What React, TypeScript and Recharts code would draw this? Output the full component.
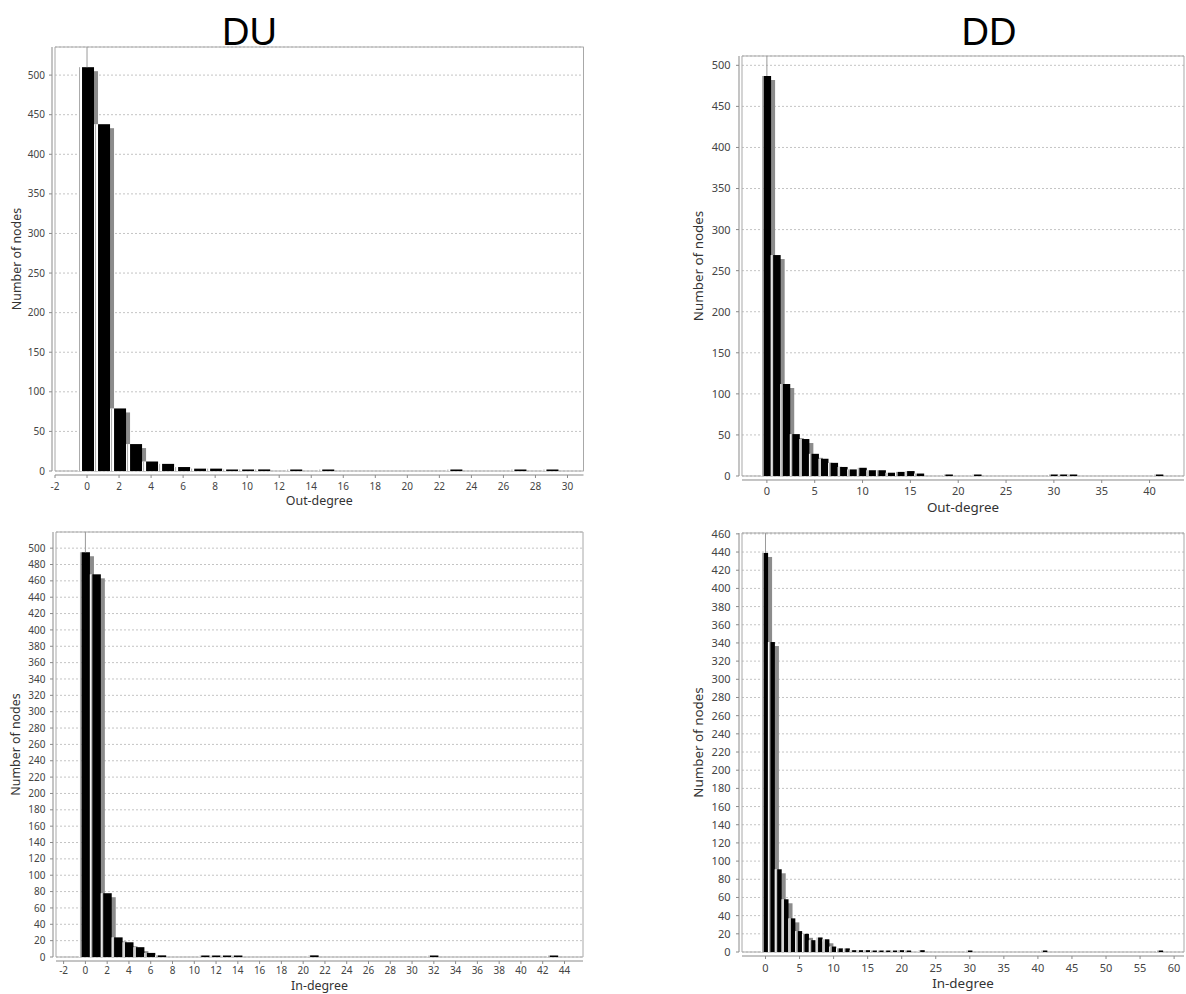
import React from 'react';
import { BarChart, Bar, XAxis, YAxis, CartesianGrid, ReferenceLine, ReferenceArea } from 'recharts';

// node counts per degree (index = degree)
const duOutCounts = [510, 438, 79, 34, 12, 9, 5, 3, 3, 1, 1, 2, 0, 1, 0, 1, 0, 0, 0, 0, 0, 0, 0, 1, 0, 0, 0, 1, 0, 1];
const ddOutCounts = [487, 269, 112, 51, 45, 27, 21, 16, 11, 8, 10, 7, 7, 4, 5, 6, 3, 0, 0, 1, 0, 0, 1, 0, 0, 0, 0, 0, 0, 0, 1, 1, 1, 0, 0, 0, 0, 0, 0, 0, 0, 1];
const duInCounts = [495, 468, 78, 24, 18, 12, 5, 2, 0, 0, 0, 1, 1, 1, 1, 0, 0, 0, 0, 0, 0, 2, 0, 0, 0, 0, 0, 0, 0, 0, 0, 0, 1, 0, 0, 0, 0, 0, 0, 0, 0, 0, 0, 1];
const ddInCounts = [439, 341, 91, 58, 37, 23, 20, 13, 16, 14, 6, 4, 4, 2, 2, 2, 1, 1, 1, 1, 2, 1, 0, 2, 0, 0, 0, 0, 0, 0, 1, 0, 0, 0, 0, 0, 0, 0, 0, 0, 0, 1, 0, 0, 0, 0, 0, 0, 0, 0, 0, 0, 0, 0, 0, 0, 0, 0, 1];

const duOutXTicks = [-2, 0, 2, 4, 6, 8, 10, 12, 14, 16, 18, 20, 22, 24, 26, 28, 30];
const ddOutXTicks = [0, 5, 10, 15, 20, 25, 30, 35, 40];
const duInXTicks = [-2, 0, 2, 4, 6, 8, 10, 12, 14, 16, 18, 20, 22, 24, 26, 28, 30, 32, 34, 36, 38, 40, 42, 44];
const ddInXTicks = [0, 5, 10, 15, 20, 25, 30, 35, 40, 45, 50, 55, 60];

const outYTicks = [0, 50, 100, 150, 200, 250, 300, 350, 400, 450, 500];
const duInYTicks = [0, 20, 40, 60, 80, 100, 120, 140, 160, 180, 200, 220, 240, 260, 280, 300, 320, 340, 360, 380, 400, 420, 440, 460, 480, 500];
const ddInYTicks = [0, 20, 40, 60, 80, 100, 120, 140, 160, 180, 200, 220, 240, 260, 280, 300, 320, 340, 360, 380, 400, 420, 440, 460];

const FONT = '"Noto Sans", "DejaVu Sans", sans-serif';

const toRows = (counts: number[]) => counts.map((count, degree) => ({ degree, count }));

// black bar with a grey drop shadow, like the old java histogram look
const HistBar = (props: any) => {
  const { x, y, width, height } = props;
  if (!(height > 0) || !(width > 0)) return <g />;
  const inset = width > 12 ? 3 : 1.5;
  const h = Math.max(height, 1.5);
  const top = y + height - h;
  const bw = width - inset - 1;
  return (
    <g>
      <rect x={x + inset + 4} y={top + 4} width={bw} height={Math.max(h - 4, 0)} fill="#8c8c8c" />
      <rect x={x - 1} y={top} width={inset + 1} height={h} fill="#fff" />
      <rect x={x} y={top} width={1} height={h} fill="#aaa" />
      <rect x={x + inset} y={top} width={bw} height={h} fill="#000" />
    </g>
  );
};

const shifted = (dx: number, dy: number) => (p: any) => (
  <line x1={p.x1 + dx} y1={p.y1 + dy} x2={p.x2 + dx} y2={p.y2 + dy} stroke="#8a8a8a" strokeWidth={1} />
);

type PanelProps = {
  counts: number[];
  xDomain: [number, number];
  xTicks: number[];
  yMax: number;
  yTicks: number[];
  xLabel: string;
  plot: { left: number; top: number; right: number; bottom: number };
  chartLeft: number;
  tickFont: number;
  titleFont: number;
  yLabelX: number;
  xLabelBaseline: number;
  xTickBaseline: number;
  yTickGap: number;
};

const Panel: React.FC<PanelProps> = (p) => {
  const chartTop = p.plot.top - 10;
  const width = p.plot.right - p.chartLeft + 2;
  const height = p.xLabelBaseline + 6 - chartTop;
  const yAxisW = p.plot.left - p.chartLeft;
  const xAxisH = height - 10 - (p.plot.bottom - p.plot.top);
  const rows = toRows(p.counts);

  const XTick = (t: any) => (
    <g>
      <line x1={t.x} x2={t.x} y1={t.y + 4} y2={t.y + 7} stroke="#8a8a8a" />
      <text x={t.x} y={p.xTickBaseline - p.plot.bottom + t.y} textAnchor="middle" fontSize={p.tickFont} fill="#444" fontFamily={FONT}>
        {t.payload.value}
      </text>
    </g>
  );
  const YTick = (t: any) => (
    <g>
      <line x1={t.x - 6} x2={t.x - 3} y1={t.y} y2={t.y} stroke="#8a8a8a" />
      <text x={t.x - p.yTickGap} y={t.y + p.tickFont * 0.36} textAnchor="end" fontSize={p.tickFont} fill="#444" fontFamily={FONT}>
        {t.payload.value}
      </text>
    </g>
  );

  return (
    <div style={{ position: 'absolute', left: p.chartLeft, top: chartTop }}>
      <BarChart
        width={width}
        height={height}
        data={rows}
        margin={{ top: 10, right: 2, left: 0, bottom: 0 }}
        barCategoryGap={0}
        barGap={0}
      >
        <CartesianGrid horizontal vertical={false} stroke="#c4c4c4" strokeDasharray="2 2" />
        <XAxis
          dataKey="degree"
          type="number"
          domain={p.xDomain}
          allowDataOverflow
          ticks={p.xTicks}
          interval={0}
          height={xAxisH}
          axisLine={false}
          tickLine={false}
          tickSize={0}
          tickMargin={0}
          tick={XTick}
          label={{
            value: p.xLabel,
            position: 'insideBottom',
            offset: 6,
            fontSize: p.titleFont,
            fill: '#333',
            fontFamily: FONT,
          }}
        />
        <YAxis
          type="number"
          domain={[0, p.yMax]}
          allowDataOverflow
          ticks={p.yTicks}
          interval={0}
          width={yAxisW}
          axisLine={false}
          tickLine={false}
          tickSize={0}
          tickMargin={0}
          tick={YTick}
          label={{
            value: 'Number of nodes',
            angle: -90,
            position: 'insideLeft',
            offset: p.yLabelX - p.chartLeft,
            fontSize: p.titleFont,
            fill: '#333',
            fontFamily: FONT,
            style: { textAnchor: 'middle' },
          }}
        />
        <ReferenceArea x1={p.xDomain[0]} x2={p.xDomain[1]} y1={0} y2={p.yMax} fill="none" stroke="#a8a8a8" ifOverflow="visible" />
        <ReferenceLine
          segment={[{ x: 0, y: p.counts[0] }, { x: 0, y: p.yMax }]}
          stroke="#9a9a9a"
          ifOverflow="visible"
        />
        <Bar dataKey="count" isAnimationActive={false} shape={HistBar} />
        <ReferenceLine y={0} ifOverflow="visible" shape={shifted(0, 4)} />
        <ReferenceLine x={p.xDomain[0]} ifOverflow="visible" shape={shifted(-3, 0)} />
      </BarChart>
    </div>
  );
};

export default function App() {
  return (
    <div style={{ position: 'absolute', left: 0, top: 0, width: 1186, height: 994, background: '#fff', overflow: 'hidden' }}>
      <svg width={1186} height={994} style={{ position: 'absolute', left: 0, top: 0 }}>
        <text x={249.5} y={45} textAnchor="middle" fontSize={38} fontFamily='"Liberation Sans", Arial, sans-serif' fill="#000">DU</text>
        <text x={989} y={45} textAnchor="middle" fontSize={38} fontFamily='"Liberation Sans", Arial, sans-serif' fill="#000">DD</text>
      </svg>
      <Panel
        counts={duOutCounts}
        xDomain={[-2, 31]}
        xTicks={duOutXTicks}
        yMax={535.5}
        yTicks={outYTicks}
        xLabel="Out-degree"
        plot={{ left: 55, top: 47, right: 583.5, bottom: 471 }}
        chartLeft={0}
        tickFont={10}
        titleFont={12.4}
        yLabelX={16.7}
        xLabelBaseline={505}
        xTickBaseline={490.3}
        yTickGap={10}
      />
      <Panel
        counts={ddOutCounts}
        xDomain={[-2.6, 43.6]}
        xTicks={ddOutXTicks}
        yMax={511.35}
        yTicks={outYTicks}
        xLabel="Out-degree"
        plot={{ left: 742, top: 56, right: 1184, bottom: 476 }}
        chartLeft={680}
        tickFont={11}
        titleFont={13.4}
        yLabelX={698}
        xLabelBaseline={512.3}
        xTickBaseline={494.7}
        yTickGap={11.5}
      />
      <Panel
        counts={duInCounts}
        xDomain={[-2.7, 45.7]}
        xTicks={duInXTicks}
        yMax={519.75}
        yTicks={duInYTicks}
        xLabel="In-degree"
        plot={{ left: 56, top: 532, right: 583, bottom: 957 }}
        chartLeft={0}
        tickFont={10}
        titleFont={12.4}
        yLabelX={16}
        xLabelBaseline={990}
        xTickBaseline={974}
        yTickGap={10.5}
      />
      <Panel
        counts={ddInCounts}
        xDomain={[-3.45, 61.45]}
        xTicks={ddInXTicks}
        yMax={460.95}
        yTicks={ddInYTicks}
        xLabel="In-degree"
        plot={{ left: 742, top: 533, right: 1184, bottom: 952 }}
        chartLeft={680}
        tickFont={11}
        titleFont={13.4}
        yLabelX={698.5}
        xLabelBaseline={988}
        xTickBaseline={972}
        yTickGap={11.5}
      />
    </div>
  );
}
